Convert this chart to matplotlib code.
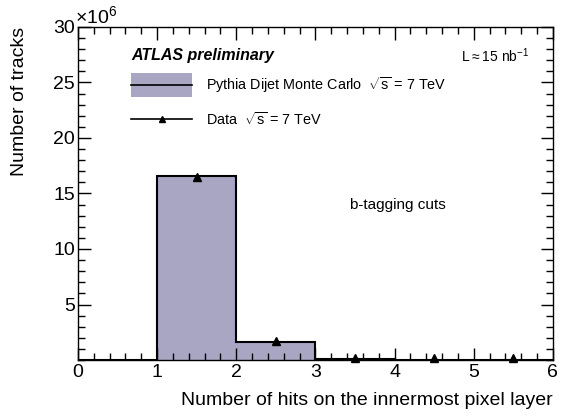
import matplotlib
matplotlib.use('Agg')
import matplotlib.pyplot as plt
import numpy as np
from matplotlib.ticker import MultipleLocator, FixedLocator
from matplotlib.patches import Rectangle
from matplotlib.lines import Line2D

plt.rcParams['font.family'] = ['Liberation Sans', 'DejaVu Sans']
plt.rcParams['mathtext.fontset'] = 'custom'
plt.rcParams['mathtext.rm'] = 'Liberation Sans'

# bins of hits on innermost pixel layer, counts in units of 1e6
bin_edges = [0, 1, 2, 3, 4, 5, 6]
mc_counts = [0.0, 16.6, 1.65, 0.12, 0.03, 0.02]
data_x = [1.5, 2.5, 3.5, 4.5, 5.5]
data_y = [16.5, 1.7, 0.2, 0.2, 0.2]

FILL = '#a9a6c4'

fig = plt.figure(figsize=(5.67, 4.19), dpi=100)
ax = fig.add_axes([0.1376, 0.1408, 0.975 - 0.1376, 0.9356 - 0.1408])

ax.stairs(mc_counts, bin_edges, fill=True, color=FILL, lw=0)
ax.stairs(mc_counts, bin_edges, color='black', lw=1.5)
ax.plot(data_x, data_y, ls='none', marker='^', color='black', ms=5.5,
        clip_on=False, zorder=5)

ax.set_xlim(0, 6)
ax.set_ylim(0, 30)
ax.xaxis.set_major_locator(MultipleLocator(1))
ax.xaxis.set_minor_locator(MultipleLocator(0.2))
ax.yaxis.set_major_locator(FixedLocator([5, 10, 15, 20, 25, 30]))
ax.yaxis.set_minor_locator(MultipleLocator(1))
ax.tick_params(which='both', direction='in', top=True, right=True, labelsize=14)
ax.tick_params(which='major', length=9, width=1)
ax.tick_params(which='minor', length=5, width=1)
ax.tick_params(axis='x', pad=3)
ax.tick_params(axis='y', pad=2)
for s in ax.spines.values():
    s.set_linewidth(1)

ax.set_xlabel('Number of hits on the innermost pixel layer', fontsize=14, loc='right')
ax.xaxis.set_label_coords(1.0, -0.095)
ax.set_ylabel('Number of tracks', fontsize=14, loc='top')
ax.yaxis.set_label_coords(-0.105, 1.0)
fig.text(0.132, 0.933, r'$\times$10$^{6}$', fontsize=14, ha='left', va='bottom')

ax.text(0.112, 0.913, 'ATLAS preliminary', transform=ax.transAxes,
        fontsize=11.5, fontweight='bold', style='italic', va='center')
ax.text(0.95, 0.913, r'L$\approx$15 nb$^{-1}$', transform=ax.transAxes,
        fontsize=10, ha='right', va='center')

# legend drawn by hand (ROOT style)
ax.add_patch(Rectangle((0.112, 0.79), 0.128, 0.072, transform=ax.transAxes,
                       facecolor=FILL, edgecolor='none'))
ax.add_line(Line2D([0.112, 0.24], [0.826, 0.826], transform=ax.transAxes,
                   color='black', lw=1.2))
ax.text(0.27, 0.826, r'Pythia Dijet Monte Carlo  $\sqrt{\rm s}$ = 7 TeV',
        transform=ax.transAxes, fontsize=10.4, va='center')
ax.add_line(Line2D([0.112, 0.24], [0.723, 0.723], transform=ax.transAxes,
                   color='black', lw=1.2))
ax.plot([0.176], [0.723], transform=ax.transAxes, marker='^', color='black', ms=5)
ax.text(0.27, 0.723, r'Data  $\sqrt{\rm s}$ = 7 TeV',
        transform=ax.transAxes, fontsize=10.4, va='center')

ax.text(0.573, 0.465, 'b-tagging cuts', transform=ax.transAxes, fontsize=11, va='center')

fig.savefig('out.png', dpi=100)
